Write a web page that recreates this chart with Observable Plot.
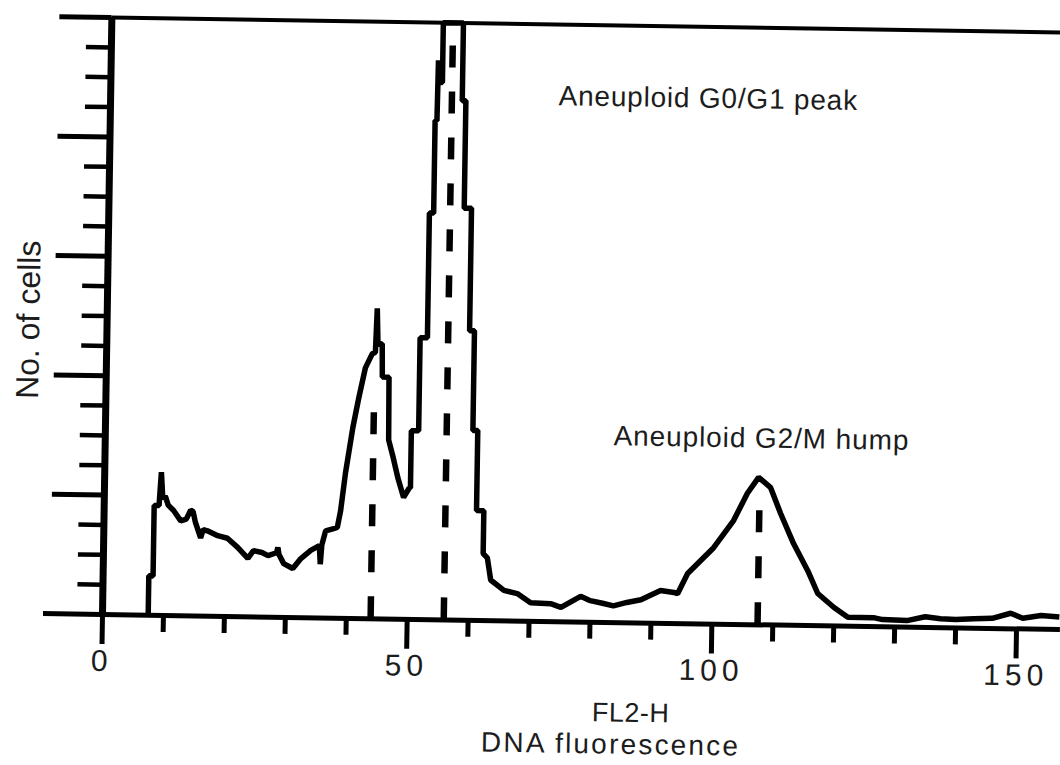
<!DOCTYPE html>
<html>
<head>
<meta charset="utf-8">
<script src="https://cdn.jsdelivr.net/npm/d3@7"></script>
<script src="https://cdn.jsdelivr.net/npm/@observablehq/plot@0.6"></script>
<style>
html, body { margin: 0; padding: 0; background: #fff; }
#chart svg { display: block; transform: rotate(0.9deg); transform-origin: 102px 614px; }
</style>
</head>
<body>
<div id="chart"></div>
<script>
// FL2-H channel (DNA fluorescence) and number of cells (relative, top frame = 100)
const channel = [7.5, 7.5, 8.2, 8.2, 9.0, 9.3, 9.6, 10.0, 10.5, 11.4,
  12.6, 13.5, 14.2, 14.6, 15.0, 15.9, 16.3, 17.0, 18.7, 20.3,
  22.0, 23.7, 24.6, 26.0, 27.0, 28.4, 28.6, 28.8, 29.6, 31.1,
  32.4, 34.0, 35.4, 35.6, 35.8, 36.4, 37.7, 38.3, 38.8, 39.5,
  40.6, 41.5, 42.5, 43.6, 44.1, 44.3, 44.5, 45.2, 45.3, 46.4,
  46.5, 47.2, 48.1, 49.1, 50.0, 50.2, 50.2, 51.4, 51.4, 52.6,
  52.6, 53.3, 53.3, 53.6, 53.7, 54.0, 54.4, 54.4, 57.7, 57.7,
  58.3, 58.3, 59.5, 59.5, 60.3, 60.3, 61.1, 61.1, 62.3, 62.3,
  63.0, 63.6, 65.8, 68.0, 70.2, 73.5, 75.2, 78.4, 80.0, 82.0,
  83.8, 86.0, 88.3, 91.5, 93.7, 94.3, 95.9, 100.1, 103.3, 105.5,
  107.3, 109.3, 111.0, 113.2, 115.6, 117.3, 120.0, 122.3, 126.5, 128.0,
  132.0, 135.0, 137.5, 140.0, 143.0, 146.0, 149.0, 151.0, 154.0, 157.0];
const cells = [0, 6.6, 6.6, 18.4, 18.4, 24, 19.5, 20, 18.5, 17.6,
  15.9, 16.2, 17.7, 17.5, 15.7, 13.1, 14.5, 14.3, 13.5, 13.1,
  11.6, 9.8, 11.1, 10.8, 10.3, 10.8, 11.7, 10.5, 9, 8.2,
  9.9, 11.3, 12.1, 9, 12.2, 14.6, 15, 15.2, 18, 24.3,
  32, 37, 42, 44.4, 44.6, 52, 46, 46.1, 40.5, 40.5,
  30, 27.4, 23.7, 20.4, 22, 22, 31.6, 31.6, 47.2, 47.2,
  68.1, 68.1, 83.6, 83.6, 93.7, 90, 90, 100, 100, 87,
  87, 69, 69, 48.5, 48.5, 31.8, 31.8, 18.4, 18.4, 11.2,
  10.5, 6.8, 5.1, 4.6, 3.1, 3, 2.4, 4.3, 3.6, 3.2,
  2.8, 3.4, 3.9, 5.5, 5.2, 5, 8.4, 12.8, 17.4, 22,
  24.7, 23, 18.7, 13.7, 9.2, 5.4, 3.1, 1.5, 1.5, 1.2,
  1.1, 1.8, 1.5, 1.4, 1.6, 1.7, 2.6, 1.8, 2.3, 2.1];

// dashed peak markers
const markerChannel = [44, 56, 107.5];
const markerTop = [35, 100, 20];

// annotations
const noteText = ["Aneuploid G0/G1 peak", "Aneuploid G2/M hump"];
const noteChannel = [73.5, 83.4];
const noteCells = [88, 31.2];

// axes
const xMajorTicks = [0, 50, 100, 150];
const xMinorTicks = [10, 20, 30, 40, 60, 70, 80, 90, 110, 120, 130, 140];
const yMajorTicks = [20, 40, 60, 80, 100];
const yMinorTicks = [5, 10, 15, 25, 30, 35, 45, 50, 55, 65, 70, 75, 85, 90, 95];
const yTitle = "No. of cells";
const xTitle = ["FL2-H", "DNA fluorescence"];
const xTitleChannel = [86.9, 83.7];

const curve = channel.map((c, i) => ({channel: c, cells: cells[i]}));
const markers = markerChannel.map((c, i) => ({channel: c, top: markerTop[i]}));
const notes = noteText.map((t, i) => ({text: t, channel: noteChannel[i], cells: noteCells[i]}));
const xMax = 157.2;
const ink = "#000";
const textInk = "#1c1c1c";
const font = "'Liberation Sans', Arial, Helvetica, sans-serif";

const chart = Plot.plot({
  width: 1060,
  height: 765,
  marginLeft: 102,
  marginRight: 0,
  marginTop: 17,
  marginBottom: 151,
  x: {domain: [0, xMax]},
  y: {domain: [0, 100]},
  style: {fontFamily: font, fontSize: "28px", color: textInk, background: "#fff", overflow: "visible"},
  marks: [
    Plot.ruleX(markers, {x: "channel", y1: 0, y2: "top", stroke: ink, strokeWidth: 6.5, strokeDasharray: "22,24", strokeLinecap: "butt"}),
    Plot.line(curve, {x: "channel", y: "cells", stroke: ink, strokeWidth: 5.5, strokeLinejoin: "miter", strokeLinecap: "butt"}),
    Plot.ruleY([0], {x1: 0, x2: xMax, stroke: ink, strokeWidth: 5}),
    Plot.ruleY([100], {x1: 0, x2: xMax, stroke: ink, strokeWidth: 4}),
    Plot.ruleX([0], {y1: 0, y2: 100, stroke: ink, strokeWidth: 7}),
    Plot.axisY([0], {anchor: "left", tickSize: 59, strokeWidth: 5, stroke: ink, tickFormat: () => "", label: null}),
    Plot.axisY(yMajorTicks, {anchor: "left", tickSize: 52, strokeWidth: 5, stroke: ink, tickFormat: () => "", label: null}),
    Plot.axisY(yMinorTicks, {anchor: "left", tickSize: 25, strokeWidth: 4.5, stroke: ink, tickFormat: () => "", label: null}),
    Plot.axisX(xMajorTicks, {anchor: "bottom", tickSize: 30, strokeWidth: 5, stroke: ink, tickPadding: 5, fontSize: 30, fill: textInk, label: null}),
    Plot.axisX(xMinorTicks, {anchor: "bottom", tickSize: 17, strokeWidth: 5, stroke: ink, tickFormat: () => "", label: null}),
    Plot.text(notes, {x: "channel", y: "cells", text: "text", textAnchor: "start", fontSize: 28, fill: textInk}),
    Plot.text([yTitle], {frameAnchor: "left", textAnchor: "middle", rotate: -90, dx: -78, dy: 5, fontSize: 32, fill: textInk}),
    Plot.text([xTitle[0]], {x: () => xTitleChannel[0], frameAnchor: "bottom", dy: 99, fontSize: 27, fill: textInk}),
    Plot.text([xTitle[1]], {x: () => xTitleChannel[1], frameAnchor: "bottom", dy: 131, fontSize: 28, fill: textInk})
  ]
});

// wide tracking of the original typesetting
const spacing = new Map([
  ["0", "5px"], ["50", "5px"], ["100", "5px"], ["150", "5px"],
  [noteText[0], "0.8px"], [noteText[1], "0.9px"],
  [xTitle[1], "2.2px"], [xTitle[0], "0.5px"]
]);
d3.select(chart).selectAll("text").each(function() {
  const s = spacing.get(this.textContent);
  if (s) this.style.letterSpacing = s;
});
document.getElementById("chart").appendChild(chart);
</script>
</body>
</html>
